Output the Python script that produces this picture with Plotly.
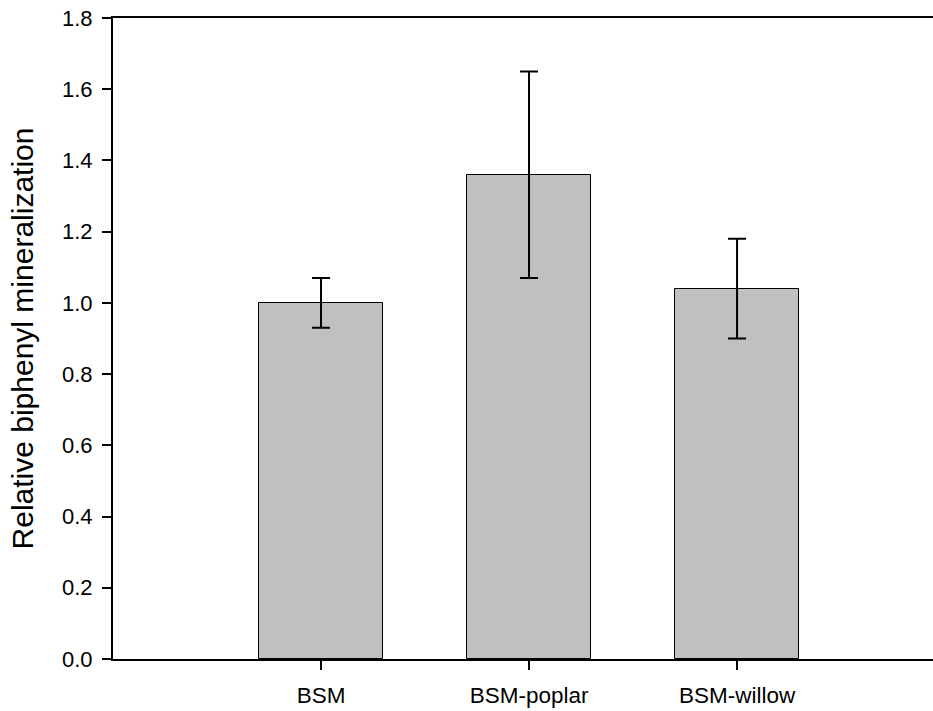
import plotly.graph_objects as go

categories = ["BSM", "BSM-poplar", "BSM-willow"]
values = [1.00, 1.36, 1.04]
errors = [0.07, 0.29, 0.14]
y_ticks = [0.0, 0.2, 0.4, 0.6, 0.8, 1.0, 1.2, 1.4, 1.6, 1.8]
y_title = "Relative biphenyl mineralization"

fig = go.Figure()
fig.add_trace(go.Bar(
    x=list(range(len(categories))),
    y=values,
    width=0.6,
    marker=dict(color="#c0c0c0", line=dict(color="black", width=1)),
    error_y=dict(type="data", array=errors, visible=True, color="black",
                 thickness=2, width=9),
))

font = "Liberation Sans, Arial, sans-serif"
fig.update_layout(
    width=933, height=711,
    margin=dict(l=113, r=0, t=18, b=52),
    plot_bgcolor="white", paper_bgcolor="white",
    showlegend=False,
    font=dict(family=font, size=22, color="black"),
    bargap=0,
)
fig.update_xaxes(
    range=[-1, 2.942],
    tickmode="array",
    tickvals=list(range(len(categories))),
    ticktext=categories,
    ticks="outside", ticklen=9, tickwidth=1.5, tickcolor="black",
    showline=True, linewidth=2, linecolor="black", mirror=True,
    showgrid=False, zeroline=False,
    tickfont=dict(size=22.5),
    ticklabelstandoff=6,
)
fig.update_yaxes(
    range=[0, 1.8],
    tickmode="array",
    tickvals=y_ticks,
    ticktext=[f"{v:.1f}" for v in y_ticks],
    ticks="outside", ticklen=9, tickwidth=1.5, tickcolor="black",
    showline=True, linewidth=2, linecolor="black",
    showgrid=False, zeroline=False,
    tickfont=dict(size=22),
    ticklabelstandoff=5,
    ticklabeloverflow="allow",
    title=dict(text=y_title, font=dict(size=30), standoff=20),
    automargin=False,
)
fig.write_html("out.html", config={"displayModeBar": False},
               post_script="document.body.style.margin='0';")
